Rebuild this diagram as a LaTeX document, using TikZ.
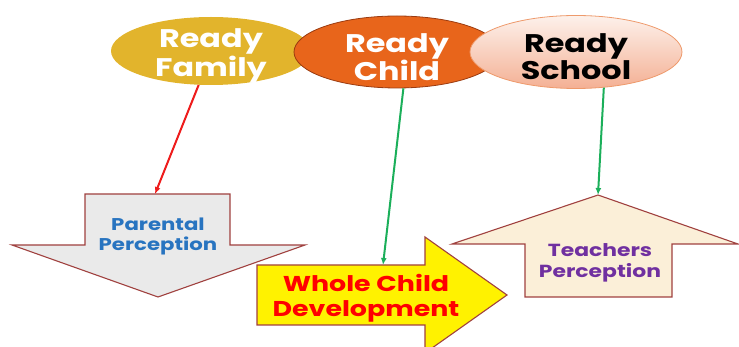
\documentclass[tikz,border=0pt]{standalone}
\usepackage{fontspec}
\usetikzlibrary{shapes.geometric,arrows.meta}
\newfontfamily\gothic[FakeStretch=1.25]{Poppins}
\definecolor{famfill}{HTML}{E2B42C}
\definecolor{childfill}{HTML}{E8651B}
\definecolor{childline}{HTML}{9B3B10}
\definecolor{schooltop}{HTML}{FDF1EB}
\definecolor{schoolbot}{HTML}{F4B094}
\definecolor{schoolline}{HTML}{EE9A6C}
\definecolor{boxline}{HTML}{A0413F}
\definecolor{greyfill}{HTML}{EAEAEA}
\definecolor{creamfill}{HTML}{FBEFD8}
\definecolor{ppblue}{HTML}{2874C0}
\definecolor{tpurple}{HTML}{7030A0}
\definecolor{linkgreen}{HTML}{1BAF5A}
\definecolor{linkred}{HTML}{EE1C1C}
\tikzset{
  x=1pt, y=-1pt,
  oval/.style={ellipse, inner sep=0pt},
  title/.style={font=\gothic\bfseries\fontsize{25.5}{27}\selectfont, align=center, inner sep=0pt},
  tag/.style={align=center, inner sep=0pt},
  bigarrow/.style={draw=boxline, line width=1.1pt, line join=miter},
  link/.style={line width=2pt, -{Latex[length=7pt,width=6pt]}},
}
\begin{document}
\begin{tikzpicture}
\useasboundingbox (0,0) rectangle (739,347);
\clip (0,0) rectangle (739,347);

% the three block arrows
\draw[bigarrow, fill=greyfill] (85,194) -- (230,194) -- (230,245) -- (305,245)
  -- (158,297) -- (12,245) -- (85,245) -- cycle;
\coordinate (pptip) at (155,194);
\draw[bigarrow, fill=yellow] (257,265) -- (425,265) -- (425,237) -- (507,295)
  -- (425,353) -- (425,325) -- (257,325) -- cycle;
\coordinate (wctip) at (383,265);
\draw[bigarrow, fill=creamfill] (598,195) -- (738,244) -- (672,244) -- (672,297)
  -- (525,297) -- (525,244) -- (452,244) -- cycle;
\coordinate (tptip) at (598,195);

\node[tag, text=ppblue, font=\gothic\bfseries\fontsize{17}{20}\selectfont] (pp) at (158,236) {Parental\\Perception};
\node[tag, text=red, font=\gothic\bfseries\fontsize{21.5}{25}\selectfont] (wc) at (366,298) {Whole Child\\Development};
\node[tag, text=tpurple, font=\gothic\bfseries\fontsize{17.5}{21}\selectfont] (tp) at (600,263) {Teachers\\Perception};

% the three ovals
\node[oval, fill=famfill, minimum width=200pt, minimum height=68pt] (fam) at (211,51) {};
\node[title, text=white] at ([yshift=-5pt]fam.center) {Ready\\Family};
\node[oval, fill=childfill, draw=childline, line width=0.8pt, minimum width=206pt, minimum height=72pt] (child) at (397,52) {};
\node[title, text=white] at ([yshift=-5pt]child.center) {Ready\\Child};
\node[oval, top color=schooltop, bottom color=schoolbot, draw=schoolline, line width=0.8pt, minimum width=212pt, minimum height=73pt] (school) at (576,52) {};
\node[title, text=black] at ([yshift=-5pt]school.center) {Ready\\School};

% links from the ovals to the arrows
\draw[link, linkred] (fam.250) -- (pptip);
\draw[link, linkgreen] (child.280) -- (wctip);
\draw[link, linkgreen] (school.308) -- (tptip);
\end{tikzpicture}
\end{document}
